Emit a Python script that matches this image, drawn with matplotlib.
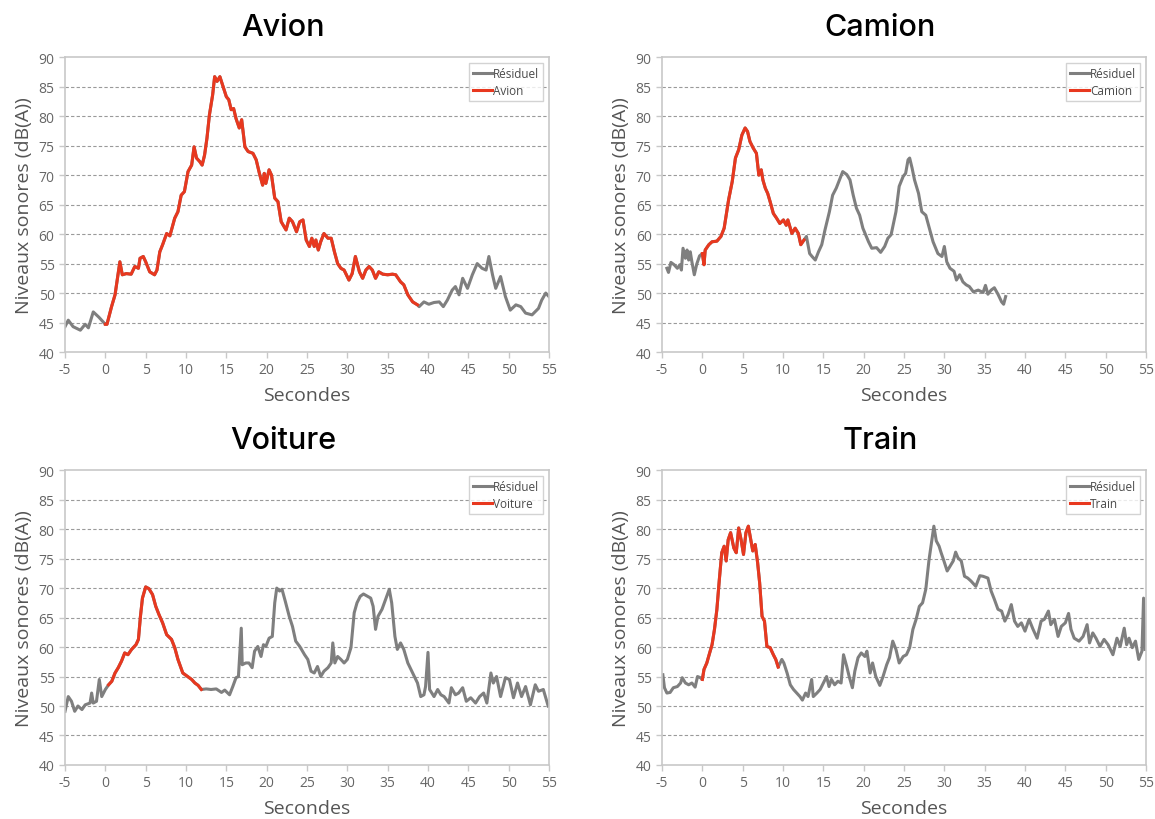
import matplotlib
matplotlib.use("Agg")
import matplotlib.pyplot as plt
import numpy as np

plt.rcParams['font.family'] = ['Open Sans', 'DejaVu Sans']
plt.rcParams['axes.unicode_minus'] = False

# ---- Avion ----
avion_t = [-5, -4.6, -4.0, -3.1, -2.5, -2.1, -1.5, -0.8, 0.0, 0.2, 0.77, 1.2, 1.8, 2.1, 2.6,
           3.2, 3.65, 4.1, 4.3, 4.7, 5.0, 5.5, 6.1, 6.4, 6.75, 7.1, 7.6, 8.0, 8.6, 9.0, 9.4,
           9.8, 10.25, 10.7, 11.0, 11.3, 11.7, 12.0, 12.3, 12.6, 12.9, 13.3, 13.55, 13.85,
           14.2, 14.6, 15.0, 15.3, 15.6, 15.9, 16.2, 16.6, 16.9, 17.3, 17.7, 18.3, 18.7, 19.1,
           19.5, 19.7, 19.9, 20.3, 20.6, 21.0, 21.4, 21.8, 22.4, 22.8, 23.2, 23.7, 24.1, 24.5,
           24.9, 25.3, 25.6, 25.9, 26.1, 26.4, 26.7, 27.1, 27.6, 28.0, 28.4, 28.8, 29.2, 29.6,
           30.2, 30.6, 31.0, 31.5, 31.9, 32.3, 32.7, 33.1, 33.5, 33.9, 34.4, 35.0, 35.6, 36.0,
           36.6, 37.0, 37.5, 38.1, 38.7, 38.9, 39.5, 40.1, 40.75, 41.4, 41.9, 42.4, 43.0, 43.4,
           43.85, 44.3, 44.9, 45.5, 46.1, 46.7, 47.2, 47.55, 48.0, 48.4, 49.0, 49.6, 50.2, 50.9,
           51.5, 52.1, 52.9, 53.7, 54.1, 54.6, 55.0]
avion_db = [44.3, 45.4, 44.3, 43.7, 44.7, 44.1, 46.8, 45.9, 44.7, 44.7, 47.7, 49.7, 55.3, 53.1, 53.3,
            53.2, 54.5, 54.2, 55.9, 56.2, 55.3, 53.6, 53.1, 53.9, 57.0, 58.2, 60.1, 59.7, 62.7, 63.8, 66.6,
            67.2, 70.6, 71.7, 74.8, 72.9, 72.3, 71.7, 73.4, 76.3, 80.2, 83.6, 86.7, 85.9,
            86.7, 85.0, 83.3, 82.8, 81.1, 81.3, 79.6, 78.0, 79.4, 74.8, 74.0, 73.7, 72.6, 70.3,
            68.3, 70.3, 68.6, 70.9, 70.0, 66.1, 65.5, 62.1, 60.7, 62.7, 62.1, 60.4, 62.1, 62.4,
            59.0, 57.9, 59.3, 57.9, 59.0, 57.3, 58.7, 60.1, 59.3, 59.3, 57.0, 55.0, 54.2, 53.9,
            52.2, 53.3, 56.2, 53.6, 52.5, 53.9, 54.5, 53.9, 52.5, 53.6, 53.2, 53.1, 53.2, 53.1,
            51.9, 51.4, 49.7, 48.5, 48.0, 47.7, 48.5, 48.1, 48.4, 48.5, 47.7, 48.8, 50.5, 51.1,
            49.7, 52.5, 50.8, 53.1, 55.0, 54.2, 53.9, 56.2, 53.1, 50.8, 52.8, 49.4, 47.1, 48.0,
            47.7, 46.6, 46.3, 47.4, 48.8, 50.0, 49.4]
avion_event = (0.0, 38.8)

# ---- Camion ----
camion_t = [-4.4, -4.2, -3.9, -3.5, -3.1, -2.8, -2.6, -2.4, -2.1, -1.9, -1.7, -1.5, -1.3, -1.0,
            -0.7, -0.35, 0.0, 0.2, 0.35, 0.8, 1.2, 1.8, 2.3, 2.7, 3.25, 3.7, 4.1, 4.5, 4.9, 5.3,
            5.6, 5.9, 6.3, 6.7, 7.0, 7.3, 7.5, 7.8, 8.1, 8.4, 8.8, 9.2, 9.6, 10.05, 10.4, 10.6,
            11.1, 11.5, 11.9, 12.2, 12.6, 12.9, 13.3, 13.6, 14.0, 14.4, 14.8, 15.2, 15.75, 16.15,
            16.6, 17.0, 17.4, 17.9, 18.3, 18.7, 19.1, 19.5, 19.9, 20.6, 21.0, 21.6, 22.1, 22.6,
            23.0, 23.4, 24.0, 24.4, 24.9, 25.2, 25.5, 25.7, 26.0, 26.3, 26.8, 27.2, 27.7, 28.2,
            28.6, 29.2, 29.7, 30.0, 30.3, 30.7, 31.2, 31.5, 31.9, 32.3, 32.7, 33.1, 33.6, 34.2,
            34.8, 35.1, 35.4, 35.8, 36.2, 36.65, 37.1, 37.35, 37.6]
camion_db = [54.2, 53.5, 55.2, 54.8, 54.2, 54.8, 53.9, 57.6, 55.9, 57.3, 55.6, 57.0, 55.3, 53.1,
             54.9, 56.3, 56.7, 54.8, 57.3, 58.2, 58.7, 58.8, 59.6, 61.0, 65.8, 68.9, 72.9, 74.3, 76.8, 78.0,
             77.4, 75.7, 74.6, 73.7, 70.0, 70.9, 69.2, 67.8, 66.9, 65.5, 63.5, 62.7, 61.8, 62.4, 61.5, 62.4,
             60.1, 61.0, 60.1, 58.2, 59.0, 59.6, 56.7, 56.2, 55.6, 57.0, 58.2, 60.7, 63.8, 66.6,
             67.8, 69.2, 70.6, 70.1, 69.2, 66.6, 64.4, 63.2, 61.0, 58.7, 57.6, 57.7, 56.9, 57.9,
             59.3, 59.9, 63.8, 68.1, 69.8, 70.3, 72.6, 72.9, 71.2, 69.2, 66.9, 63.8, 63.2, 60.7,
             58.7, 56.7, 56.2, 57.9, 55.3, 54.2, 53.7, 52.2, 53.1, 51.9, 51.4, 51.1, 50.2, 50.5,
             50.1, 51.3, 49.8, 50.5, 50.9, 49.8, 48.5, 48.1, 49.4]
camion_event = (0.0, 12.7)

# ---- Voiture ----
voiture_t = [-5.0, -4.6, -4.2, -3.8, -3.4, -2.9, -2.5, -1.9, -1.7, -1.5, -1.1, -0.75, -0.45, 0.0,
             0.4, 0.8, 1.2, 1.6, 2.0, 2.4, 2.8, 3.25, 3.8, 4.1, 4.35, 4.6, 5.0, 5.4, 5.85, 6.25,
             6.65, 7.1, 7.6, 8.2, 8.6, 9.0, 9.6, 10.2, 10.7, 11.1, 11.5, 11.9, 12.5, 13.1, 13.75,
             14.4, 14.8, 15.4, 15.8, 16.2, 16.5, 16.85, 16.97, 17.4, 17.8, 18.2, 18.5, 18.9, 19.3,
             19.6, 19.9, 20.3, 20.7, 21.0, 21.25, 21.6, 21.9, 22.3, 22.8, 23.2, 23.6, 24.1, 24.7,
             25.1, 25.5, 25.9, 26.3, 26.7, 27.1, 27.6, 28.0, 28.2, 28.45, 28.8, 29.2, 29.6, 30.0,
             30.45, 30.85, 31.2, 31.6, 32.0, 32.5, 32.9, 33.2, 33.5, 33.8, 34.3, 34.8, 35.2, 35.5,
             35.9, 36.2, 36.6, 37.0, 37.5, 38.1, 38.7, 39.1, 39.5, 39.7, 40.0, 40.2, 40.75, 41.2,
             41.6, 42.0, 42.6, 42.9, 43.4, 43.8, 44.3, 44.75, 45.3, 45.9, 46.4, 46.9, 47.3, 47.8,
             48.1, 48.5, 49.0, 49.6, 50.1, 50.6, 51.1, 51.6, 52.1, 52.7, 53.3, 53.7, 54.3, 54.9]
voiture_db = [49.1, 51.6, 50.8, 49.1, 50.0, 49.4, 50.2, 50.5, 52.2, 50.5, 50.8, 54.5, 51.6, 52.8,
              53.6, 54.2, 55.6, 56.5, 57.6, 59.0, 58.7, 59.6, 60.4, 61.3, 65.2, 68.3, 70.2, 69.9, 68.9, 66.9,
              65.5, 64.1, 62.1, 61.3, 59.9, 57.9, 55.6, 55.0, 54.5, 53.9, 53.5, 52.8, 52.9, 52.8, 52.9,
              52.3, 52.7, 51.9, 53.3, 54.8, 55.0, 63.2, 57.0, 57.3, 57.3, 56.5, 59.3, 60.1, 58.4,
              60.4, 60.1, 61.5, 61.8, 67.5, 70.0, 69.5, 69.8, 67.8, 65.2, 63.5, 61.0, 60.1, 58.7,
              57.9, 55.9, 55.6, 56.7, 55.0, 55.9, 56.5, 57.3, 60.7, 57.3, 58.4, 57.9, 57.3, 57.9,
              59.9, 65.8, 67.5, 68.6, 69.0, 68.6, 68.3, 66.9, 63.0, 65.2, 66.4, 68.3, 69.8, 67.5,
              61.8, 59.6, 60.7, 59.6, 57.3, 55.6, 53.9, 51.6, 51.9, 53.3, 59.1, 52.8, 51.6, 52.8,
              51.9, 51.6, 50.5, 53.1, 51.9, 52.2, 53.1, 50.8, 51.4, 50.5, 51.6, 52.2, 50.5, 55.6,
              53.9, 55.0, 51.6, 54.8, 54.5, 51.4, 53.9, 51.6, 53.3, 50.2, 53.6, 52.5, 52.8, 50.0]
voiture_event = (0.2, 11.9)

# ---- Train ----
train_t = [-4.9, -4.7, -4.4, -4.0, -3.6, -3.1, -2.7, -2.5, -2.1, -1.7, -1.3, -0.9, -0.6, -0.25,
           0.0, 0.2, 0.55, 0.9, 1.2, 1.5, 1.8, 2.1, 2.4, 2.7, 2.95, 3.2, 3.5, 3.9, 4.2, 4.5, 4.8,
           5.1, 5.4, 5.7, 6.0, 6.25, 6.55, 6.85, 7.1, 7.4, 7.7, 8.0, 8.4, 8.8, 9.1, 9.4, 9.85,
           10.1, 10.5, 10.9, 11.3, 11.7, 12.1, 12.4, 12.8, 13.1, 13.55, 13.75, 14.2, 14.6, 15.0,
           15.4, 15.7, 16.0, 16.4, 16.8, 17.2, 17.5, 17.9, 18.2, 18.6, 18.9, 19.3, 19.7, 20.15,
           20.4, 20.8, 21.1, 21.5, 22.0, 22.4, 22.85, 23.2, 23.6, 24.0, 24.4, 24.9, 25.3, 25.7,
           26.1, 26.5, 26.9, 27.3, 27.7, 28.1, 28.4, 28.7, 29.0, 29.35, 29.6, 29.9, 30.35, 30.7,
           31.1, 31.4, 31.7, 32.1, 32.5, 32.9, 33.3, 33.9, 34.4, 34.8, 35.4, 35.8, 36.2, 36.65,
           37.1, 37.5, 37.9, 38.3, 38.7, 39.1, 39.55, 40.0, 40.5, 41.0, 41.5, 42.0, 42.4, 42.9,
           43.2, 43.65, 44.1, 44.5, 45.0, 45.4, 45.7, 46.1, 46.7, 47.2, 47.7, 48.0, 48.4, 48.8,
           49.3, 49.8, 50.3, 50.9, 51.4, 51.8, 52.3, 52.6, 52.9, 53.3, 53.7, 54.1, 54.5, 54.7, 54.9]
train_db = [55.3, 53.1, 52.2, 52.3, 53.1, 53.3, 53.9, 54.8, 53.9, 53.6, 53.9, 53.2, 55.0, 54.8,
            54.5, 56.2, 57.3, 59.0, 60.4, 63.0, 66.4, 71.4, 76.0, 77.1, 74.6, 78.2, 79.4, 76.8, 76.0, 80.2, 78.2,
            75.7, 79.4, 80.5, 78.2, 76.3, 77.4, 74.3, 70.9, 65.2, 64.4, 60.1, 59.9, 58.7, 57.9, 56.6, 57.9,
            57.3, 55.6, 53.6, 52.8, 52.2, 51.6, 51.0, 52.2, 51.6, 54.5, 51.6, 52.2, 52.8, 53.9,
            55.0, 53.3, 54.5, 53.6, 54.2, 53.9, 58.7, 56.7, 55.0, 53.1, 55.9, 58.2, 59.0, 58.4,
            59.3, 55.6, 57.3, 55.0, 53.5, 55.0, 57.0, 58.2, 61.0, 59.6, 57.3, 58.4, 58.7, 59.9,
            63.0, 64.7, 66.9, 67.5, 69.8, 74.8, 77.7, 80.5, 78.0, 77.1, 76.0, 74.8, 72.9, 73.7,
            74.6, 76.1, 75.1, 74.6, 72.0, 71.7, 71.2, 70.3, 72.1, 72.0, 71.7, 69.5, 68.1, 66.4,
            66.1, 64.4, 65.5, 67.2, 64.4, 63.5, 64.1, 62.7, 64.7, 63.0, 61.5, 64.4, 64.7, 66.1,
            63.8, 64.7, 61.8, 63.5, 64.1, 65.7, 63.0, 61.5, 61.0, 61.8, 63.8, 60.7, 62.4, 61.5,
            60.1, 61.3, 60.4, 58.7, 61.5, 60.1, 63.2, 60.4, 61.5, 59.9, 61.0, 57.9, 59.3, 68.3, 59.6]
train_event = (0.0, 9.4)

panels = [
    ("Avion", avion_t, avion_db, avion_event),
    ("Camion", camion_t, camion_db, camion_event),
    ("Voiture", voiture_t, voiture_db, voiture_event),
    ("Train", train_t, train_db, train_event),
]

x_ticks = list(range(-5, 56, 5))
y_ticks = list(range(40, 91, 5))

GRAY = "#7f7f7f"
RED = "#e8381f"
FRAME = "#c8c8c8"
TICK_TXT = "#666666"

fig = plt.figure(figsize=(11.55, 8.2), dpi=100)

lefts = [0.0563, 0.5732]
bottoms = [0.5695, 0.0659]
w, h = 0.419, 0.3595

for i, (name, t, db, (t0, t1)) in enumerate(panels):
    ax = fig.add_axes([lefts[i % 2], bottoms[i // 2], w, h])
    t = np.asarray(t)
    db = np.asarray(db)
    ax.plot(t, db, color=GRAY, lw=2.2, label="Résiduel", solid_joinstyle="round")
    m = (t >= t0 - 1e-9) & (t <= t1 + 1e-9)
    ax.plot(t[m], db[m], color=RED, lw=2.2, label=name, solid_joinstyle="round")

    ax.set_xlim(-5, 55)
    ax.set_ylim(40, 90)
    ax.set_xticks(x_ticks)
    ax.set_yticks(y_ticks)
    ax.tick_params(axis="both", colors=FRAME, labelcolor=TICK_TXT, labelsize=10,
                   length=4, width=1)
    for s in ax.spines.values():
        s.set_color(FRAME)
        s.set_linewidth(1.2)
    for yv in y_ticks[1:-1]:
        ax.axhline(yv, color="#9a9a9a", lw=0.8, ls=(0, (3, 2)), zorder=0)

    ax.set_xlabel("Secondes", fontsize=14, color="#555555", labelpad=6)
    ax.set_ylabel("Niveaux sonores (dB(A))", fontsize=14, color="#555555", labelpad=4)
    ax.set_title(name, fontsize=22, fontweight="medium", x=0.45, pad=16, color="black",
                 family=['Inter', 'Open Sans', 'DejaVu Sans'])

    leg = ax.legend(loc="upper right", fontsize=8.5, frameon=True, fancybox=False,
                    edgecolor=FRAME, handlelength=1.6, handletextpad=0.1,
                    borderaxespad=0.5, borderpad=0.35, labelspacing=0.3)
    leg.get_frame().set_linewidth(1.0)
    for txt in leg.get_texts():
        txt.set_color("#4a4a4a")

fig.savefig("out.png", dpi=100, facecolor="white")
